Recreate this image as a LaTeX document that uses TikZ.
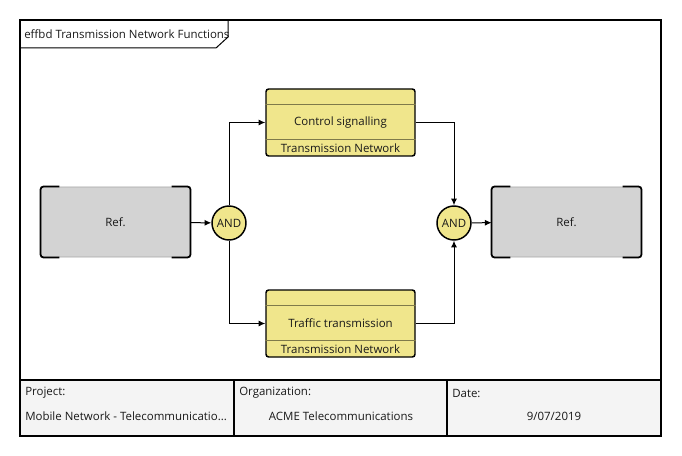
\documentclass[tikz,border=0pt]{standalone}
\usepackage{fontspec}
\setmainfont{Open Sans}
\usetikzlibrary{arrows.meta}
\definecolor{fnyellow}{HTML}{F0E68C}
\definecolor{refgrey}{HTML}{D3D3D3}
\definecolor{sepline}{HTML}{7F7A4A}
\definecolor{footfill}{HTML}{F4F4F4}
\tikzset{
	every node/.style={font=\fontsize{8.6pt}{10pt}\selectfont, inner sep=0pt, text=black!90},
	refbox/.style={rectangle, rounded corners=2pt, fill=refgrey, draw=gray!70, line width=0.6pt, minimum width=111.75pt, minimum height=52.5pt},
	fnbox/.style={rectangle, rounded corners=2pt, fill=fnyellow, draw=black, line width=1.1pt, minimum width=111.75pt, minimum height=50.25pt},
	andgate/.style={circle, fill=fnyellow, draw=black, line width=1.1pt, minimum size=25.5pt},
	flow/.style={-{Latex[length=5pt,width=4.5pt]}, line width=0.75pt},
	bracket/.style={line width=1.3pt, rounded corners=2pt},
	sep/.style={draw=sepline, line width=1pt},
}

\begin{document}
\begin{tikzpicture}[x=0.75pt,y=-0.75pt]
			\useasboundingbox (0,0) rectangle (682,456);
			% footer
			\fill[footfill] (20,380) rectangle (661,436);
			\draw[line width=1.2pt] (20,380) -- (661,380);
			\draw[line width=1.2pt] (234,380) -- (234,436);
			\draw[line width=1.2pt] (447,380) -- (447,436);
			\node[anchor=west] (projlbl) at (25,393) {Project:};
			\node[anchor=west] (projval) at (25,416) {Mobile Network - Telecommunicatio...};
			\node[anchor=west] (orglbl) at (239,393) {Organization:};
			\node (orgval) at (341,416) {ACME Telecommunications};
			\node[anchor=west] (datelbl) at (452,393) {Date:};
			\node (dateval) at (554,416) {9/07/2019};
			\draw[line width=1.5pt] (20,20) rectangle (661,436);
			% title tab
			\node[anchor=west] (title) at (24,34) {effbd Transmission Network Functions};
			\draw[line width=0.75pt] (20,48) -- (216,48) -- (228,37) -- (228,20);
			% reference boxes
			\node[refbox] (refin) at (115.5,222) {Ref.};
			\draw[bracket] ([xshift=14pt]refin.north west) -| (refin.south west) -- ([xshift=14pt]refin.south west);
			\draw[bracket] ([xshift=-14pt]refin.north east) -| (refin.south east) -- ([xshift=-14pt]refin.south east);
			\node[refbox] (refout) at (566.5,222) {Ref.};
			\draw[bracket] ([xshift=14pt]refout.north west) -| (refout.south west) -- ([xshift=14pt]refout.south west);
			\draw[bracket] ([xshift=-14pt]refout.north east) -| (refout.south east) -- ([xshift=-14pt]refout.south east);
			% gates
			\node[andgate] (andsplit) at (229,223) {AND};
			\node[andgate] (andjoin) at (454,223) {AND};
			% functions
			\node[fnbox] (ctrl) at (340.5,122.5) {Control signalling};
			\draw[sep] ([yshift=-12pt]ctrl.north west) -- ([yshift=-12pt]ctrl.north east);
			\draw[sep] ([yshift=12.75pt]ctrl.south west) -- ([yshift=12.75pt]ctrl.south east);
			\node (ctrlown) at ([yshift=6.2pt]ctrl.south) {Transmission Network};
			\node[fnbox] (traffic) at (340.5,323.5) {Traffic transmission};
			\draw[sep] ([yshift=-12pt]traffic.north west) -- ([yshift=-12pt]traffic.north east);
			\draw[sep] ([yshift=12.75pt]traffic.south west) -- ([yshift=12.75pt]traffic.south east);
			\node (trafficown) at ([yshift=6.2pt]traffic.south) {Transmission Network};
			% flows
			\draw[flow] (refin) -- (andsplit);
			\draw[flow] (andsplit) |- (ctrl);
			\draw[flow] (andsplit) |- (traffic);
			\draw[flow] (ctrl) -| (andjoin);
			\draw[flow] (traffic) -| (andjoin);
			\draw[flow] (andjoin) -- (refout);
		\end{tikzpicture}
\end{document}
